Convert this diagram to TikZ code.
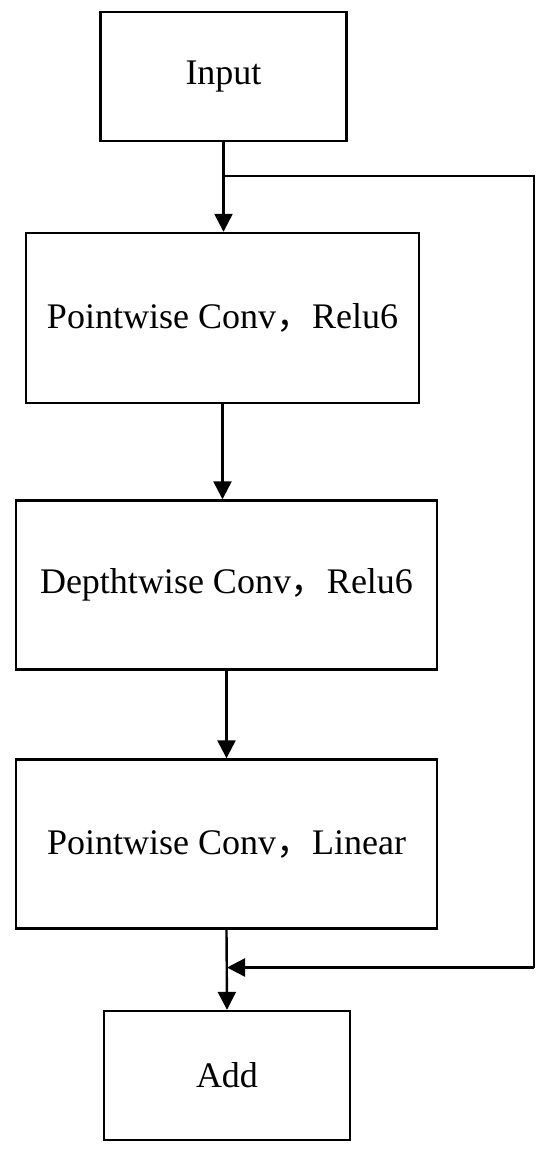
\documentclass[tikz,border=0pt]{standalone}
\usepackage{fontspec}
\setmainfont{Liberation Serif}
\newfontfamily\cjk{Noto Sans CJK SC}
\usetikzlibrary{arrows.meta}
\begin{document}
\begin{tikzpicture}[x=1pt,y=-1pt,
  blk/.style={draw, line width=2.4pt, inner sep=0pt, font=\fontsize{36}{42}\selectfont},
  conn/.style={line width=2.4pt, -{Triangle[length=18pt,width=18pt]}},
  plain/.style={line width=2.4pt}]
\useasboundingbox (0,0) rectangle (550,1157);
\node[blk, minimum width=246pt, minimum height=129pt] (in) at (223.5,76.5) {Input};
\node[blk, minimum width=393pt, minimum height=170pt] (pw1) at (222.5,318) {Pointwise Conv{\cjk ，}Relu6};
\node[blk, minimum width=421pt, minimum height=169pt] (dw) at (226.5,585) {Depthtwise Conv{\cjk ，}Relu6};
\node[blk, minimum width=421pt, minimum height=169pt] (pw2) at (226.5,844) {Pointwise Conv{\cjk ，}Linear};
\node[blk, minimum width=246pt, minimum height=129pt] (add) at (227,1075.5) {Add};
\coordinate (br) at (223.5,176);
\coordinate (tr) at (534,176);
\coordinate (brr) at (534,967.5);
\coordinate (j) at (227,967.5);
\draw[conn] (in.south) -- (in.south |- pw1.north);
\draw[conn] (pw1.south) -- (pw1.south |- dw.north);
\draw[conn] (dw.south) -- (pw2.north);
\draw[conn] (pw2.south) -- (add.north);
\draw[plain] (br) -- (tr) -- (brr);
\draw[conn] (brr) -- (j);
\end{tikzpicture}
\end{document}
